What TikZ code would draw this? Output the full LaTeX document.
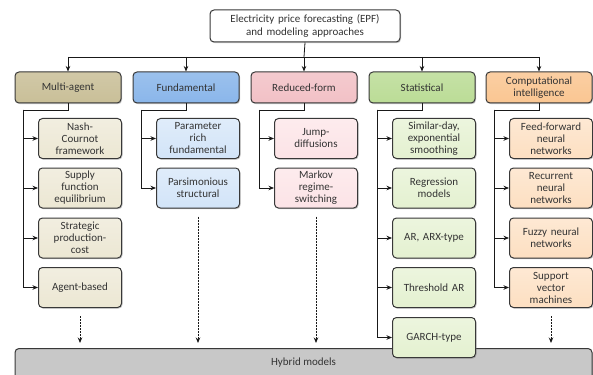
\documentclass[tikz,border=0pt]{standalone}
\usepackage{fontspec}
\setmainfont{Carlito}
\usetikzlibrary{shadows,arrows.meta,shadings}
\definecolor{txt}{HTML}{333333}
\definecolor{edge}{HTML}{383838}
\definecolor{maH}{HTML}{C9BF98}\definecolor{maS}{HTML}{ECE7D3}
\definecolor{fuH}{HTML}{8AB6EA}\definecolor{fuS}{HTML}{D2E4F8}
\definecolor{reH}{HTML}{F2C1C6}\definecolor{reS}{HTML}{FCE3E6}
\definecolor{stH}{HTML}{BBDC96}\definecolor{stS}{HTML}{E4F1D0}
\definecolor{coH}{HTML}{FAC692}\definecolor{coS}{HTML}{FDDFC1}
\definecolor{hyb}{HTML}{C8C8C8}
\tikzset{
  basebox/.style={draw=edge, line width=1pt, rounded corners=4pt, text=txt,
    align=center, inner sep=1pt, font=\fontsize{11}{12}\selectfont,
    drop shadow={shadow xshift=1pt, shadow yshift=-1.2pt, opacity=0.45}},
  catbox/.style={basebox, minimum width=106pt, minimum height=31pt, text width=100pt},
  subbox/.style={basebox, minimum width=83pt, minimum height=40pt, text width=80pt},
  tip/.style={-{Stealth[length=5.5pt,width=4.5pt]}},
  conn/.style={draw=black!90, line width=0.8pt},
  dasharrow/.style={conn, line width=1pt, dash pattern=on 2pt off 1pt, tip},
}
\begin{document}
\begin{tikzpicture}[x=1pt,y=-1pt]
\useasboundingbox (0,0) rectangle (593,374);
\clip (0,0) rectangle (593,374);
% hybrid bar
\node[basebox, fill=hyb, minimum width=577pt, minimum height=36pt, anchor=north] (hyb) at (303.5,348) {};
\node[text=txt, font=\fontsize{11}{12}\selectfont] (hybt) at (303.5,363) {Hybrid models};
% top box
\node[basebox, fill=white, minimum width=190pt, minimum height=32pt, text width=185pt, font=\fontsize{11}{13}\selectfont] (top) at (305,26) {Electricity price forecasting (EPF)\\and modeling approaches};
% headers
\node[catbox, top color=maH!85!white, bottom color=maH] (h1) at (68,87.5) {Multi-agent};
\node[catbox, top color=fuH!85!white, bottom color=fuH] (h2) at (186,87.5) {Fundamental};
\node[catbox, top color=reH!85!white, bottom color=reH] (h3) at (304,87.5) {Reduced-form};
\node[catbox, top color=stH!85!white, bottom color=stH] (h4) at (422,87.5) {Statistical};
\node[catbox, top color=coH!85!white, bottom color=coH] (h5) at (539,87.5) {Computational\\intelligence};
% bus
\coordinate (bus) at (304,57);
\draw[conn] (top.south) -- (bus);
\draw[conn] (h1.north |- bus) -- (h5.north |- bus);
\foreach \h in {h1,h2,h3,h4,h5} \draw[conn,tip] (\h.north |- bus) -- (\h.north);
% column coordinates
\coordinate (v1) at (23,110);
\coordinate (v2) at (141,110);
\coordinate (v3) at (259,110);
\coordinate (v4) at (377,110);
\coordinate (v5) at (494,110);
\foreach \i in {1,...,5} \draw[conn] (h\i.south) |- (v\i);
% column 1
\node[subbox, top color=maS!70!white, bottom color=maS] (a1) at (80,138.5) {Nash-\\Cournot\\framework};
\node[subbox, top color=maS!70!white, bottom color=maS] (a2) at (80,188) {Supply\\function\\equilibrium};
\node[subbox, top color=maS!70!white, bottom color=maS] (a3) at (80,238) {Strategic\\production-\\cost};
\node[subbox, top color=maS!70!white, bottom color=maS] (a4) at (80,287.5) {Agent-based};
% column 2
\node[subbox, top color=fuS!70!white, bottom color=fuS] (b1) at (198,138.5) {Parameter\\rich\\fundamental};
\node[subbox, top color=fuS!70!white, bottom color=fuS] (b2) at (198,188) {Parsimonious\\structural};
% column 3
\node[subbox, top color=reS!70!white, bottom color=reS] (c1) at (316,138.5) {Jump-\\diffusions};
\node[subbox, top color=reS!70!white, bottom color=reS] (c2) at (316,188) {Markov\\regime-\\switching};
% column 4
\node[subbox, top color=stS!70!white, bottom color=stS] (d1) at (434,138.5) {Similar-day,\\exponential\\smoothing};
\node[subbox, top color=stS!70!white, bottom color=stS] (d2) at (434,188) {Regression\\models};
\node[subbox, top color=stS!70!white, bottom color=stS] (d3) at (434,238) {AR, ARX-type};
\node[subbox, top color=stS!70!white, bottom color=stS] (d4) at (434,287.5) {Threshold AR};
\node[subbox, top color=stS!70!white, bottom color=stS] (d5) at (434,337.5) {GARCH-type};
% column 5
\node[subbox, top color=coS!70!white, bottom color=coS] (e1) at (551,138.5) {Feed-forward\\neural\\networks};
\node[subbox, top color=coS!70!white, bottom color=coS] (e2) at (551,188) {Recurrent\\neural\\networks};
\node[subbox, top color=coS!70!white, bottom color=coS] (e3) at (551,238) {Fuzzy neural\\networks};
\node[subbox, top color=coS!70!white, bottom color=coS] (e4) at (551,287.5) {Support\\vector\\machines};
% branch arrows
\foreach \s in {a1,a2,a3,a4} \draw[conn,tip] (v1) |- (\s.west);
\foreach \s in {b1,b2} \draw[conn,tip] (v2) |- (\s.west);
\foreach \s in {c1,c2} \draw[conn,tip] (v3) |- (\s.west);
\foreach \s in {d1,d2,d3,d4,d5} \draw[conn,tip] (v4) |- (\s.west);
\foreach \s in {e1,e2,e3,e4} \draw[conn,tip] (v5) |- (\s.west);
% dashed arrows to hybrid
\foreach \s in {a4,b2,c2,e4} \draw[dasharrow, shorten >=5pt] ([yshift=-8pt]\s.south) -- (\s.south |- hyb.north);
\end{tikzpicture}
\end{document}
